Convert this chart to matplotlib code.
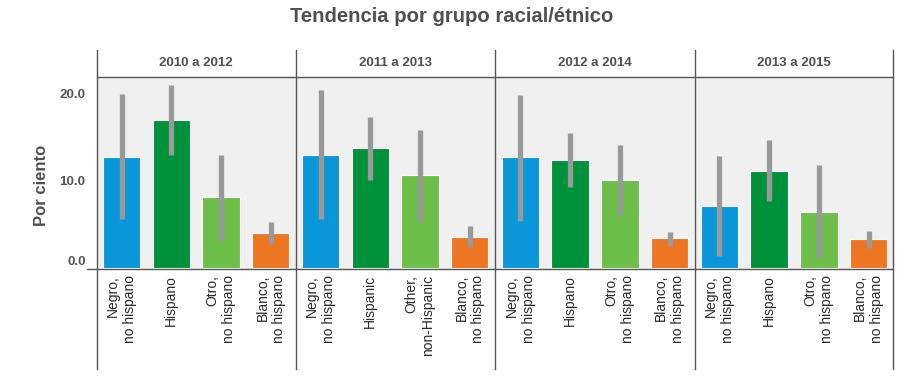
import matplotlib
matplotlib.use("Agg")
import matplotlib.pyplot as plt
from matplotlib.lines import Line2D
import numpy as np

periods = ["2010 a 2012", "2011 a 2013", "2012 a 2014", "2013 a 2015"]
labels = [
    ["Negro,\nno hispano", "Hispano", "Otro,\nno hispano", "Blanco,\nno hispano"],
    ["Negro,\nno hispano", "Hispanic", "Other,\nnon-Hispanic", "Blanco,\nno hispano"],
    ["Negro,\nno hispano", "Hispano", "Otro,\nno hispano", "Blanco,\nno hispano"],
    ["Negro,\nno hispano", "Hispano", "Otro,\nno hispano", "Blanco,\nno hispano"],
]
values = [
    [12.7, 17.0, 8.1, 4.0],
    [12.95, 13.8, 10.65, 3.5],
    [12.7, 12.4, 10.1, 3.4],
    [7.1, 11.1, 6.4, 3.25],
]
lower = [
    [5.55, 13.0, 3.1, 2.7],
    [5.55, 10.15, 5.25, 2.4],
    [5.4, 9.3, 6.0, 2.5],
    [1.4, 7.7, 1.15, 2.25],
]
upper = [
    [20.0, 21.0, 12.95, 5.25],
    [20.4, 17.4, 15.9, 4.8],
    [19.85, 15.55, 14.1, 4.1],
    [12.85, 14.7, 11.8, 4.2],
]
colors = ["#0A97D9", "#00923A", "#6DBF4A", "#EE7623"]
yticks = [0, 10, 20]

FONT = "Liberation Sans"
W, H = 904, 377
fig = plt.figure(figsize=(W / 100, H / 100), dpi=100)
fig.patch.set_facecolor("white")

panel_left = [96.7, 295.7, 495.5, 694.5]
panel_w = 199.0
y_bottom = 269.0
y_top = 77.0
ymin, ymax = -0.15, 21.95

text_col = "#505050"

for i in range(4):
    x0 = panel_left[i]
    ax = fig.add_axes([x0 / W, (H - y_bottom) / H, panel_w / W, (y_bottom - y_top) / H])
    ax.set_facecolor("#F0F0F0")
    xs = np.arange(4)
    ax.bar(xs, values[i], width=0.75, color=colors, edgecolor="white", linewidth=0.8, zorder=2)
    for j in range(4):
        ax.plot([xs[j], xs[j]], [lower[i][j], upper[i][j]], color="#999999",
                linewidth=3.8, solid_capstyle="butt", zorder=3)
    ax.set_xlim(-0.5, 3.5)
    ax.set_ylim(ymin, ymax)
    for s in ax.spines.values():
        s.set_visible(False)
    ax.set_xticks([])
    if i == 0:
        ax.set_yticks(yticks)
        ax.set_yticklabels(["0.0", "10.0", "20.0"], fontsize=9.6, fontweight="bold",
                           color="#555555", family=FONT)
        ax.tick_params(axis="y", length=0, pad=8)
        for lbl in ax.get_yticklabels():
            if lbl.get_text() == "0.0":
                lbl.set_va("bottom")
    else:
        ax.set_yticks([])
    for j in range(4):
        ax.text(xs[j], -0.03, labels[i][j], transform=ax.get_xaxis_transform(),
                rotation=90, ha="center", va="top", multialignment="right",
                fontsize=10, color="#2A2A2A", linespacing=1.25, family=FONT)
    fig.text((x0 + panel_w / 2) / W, 1 - 63 / H, periods[i], ha="center", va="center",
             fontsize=9.5, fontweight="bold", color=text_col, family=FONT)

fig.text(42 / W, 1 - 185 / H, "Por ciento", rotation=90, ha="center", va="center",
         fontsize=12, fontweight="bold", color=text_col, family=FONT)

line_col = "#555555"
for x in panel_left + [panel_left[-1] + panel_w]:
    fig.add_artist(Line2D([x / W, x / W], [1 - 50 / H, 1 - 369 / H], color=line_col, linewidth=1.0))
fig.add_artist(Line2D([panel_left[0] / W, (panel_left[-1] + panel_w) / W], [1 - y_top / H] * 2,
                      color=line_col, linewidth=1.0))
fig.add_artist(Line2D([87 / W, (panel_left[-1] + panel_w) / W], [1 - y_bottom / H] * 2,
                      color=line_col, linewidth=1.0))

fig.text(452 / W, 1 - 16 / H, "Tendencia por grupo racial/étnico", ha="center", va="center",
         fontsize=14.6, fontweight="bold", color=text_col, family=FONT)

fig.savefig("out.png", dpi=100)
